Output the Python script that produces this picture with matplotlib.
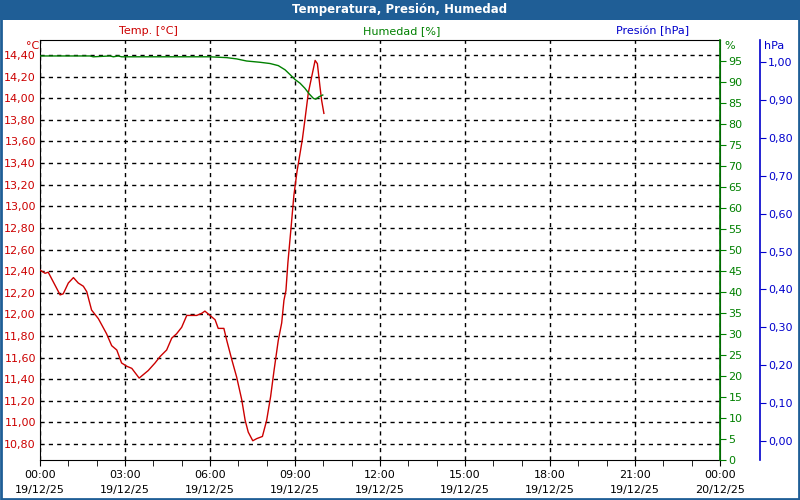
import matplotlib
matplotlib.use('Agg')
import matplotlib.pyplot as plt
from matplotlib.patches import Rectangle
from matplotlib.ticker import FuncFormatter, MultipleLocator

# datos (horas desde 00:00 del 19/12/25)
temp_h = [0.0, 0.18, 0.29, 0.47, 0.71, 0.82, 1.00, 1.18, 1.35, 1.53, 1.65, 1.82, 1.88,
          2.06, 2.35, 2.53, 2.71, 2.88, 3.06, 3.24, 3.50, 3.82, 4.06, 4.24, 4.47, 4.65,
          4.82, 5.00, 5.18, 5.53, 5.71, 5.82, 6.00, 6.18, 6.29, 6.49, 6.59, 6.77, 6.94,
          7.12, 7.24, 7.35, 7.51, 7.65, 7.85, 8.00, 8.14, 8.26, 8.41, 8.53, 8.61, 8.68,
          8.75, 8.86, 8.96, 9.07, 9.14, 9.26, 9.35, 9.47, 9.59, 9.71, 9.79, 9.88, 9.94, 10.02]
temp_c = [12.41, 12.38, 12.39, 12.30, 12.18, 12.19, 12.29, 12.34, 12.29, 12.26, 12.21, 12.04, 12.02,
          11.96, 11.82, 11.71, 11.67, 11.55, 11.52, 11.50, 11.41, 11.48, 11.55, 11.61, 11.67, 11.78,
          11.82, 11.88, 11.99, 11.99, 12.01, 12.03, 11.99, 11.95, 11.87, 11.87, 11.76, 11.58, 11.42,
          11.21, 11.02, 10.91, 10.83, 10.85, 10.87, 11.02, 11.24, 11.48, 11.76, 11.92, 12.13, 12.22,
          12.48, 12.80, 13.10, 13.32, 13.43, 13.62, 13.80, 14.05, 14.20, 14.35, 14.32, 14.11, 13.98, 13.86]

hum_h = [0.0, 1.76, 1.88, 2.47, 2.59, 2.76, 2.88, 6.00, 6.59, 6.94, 7.29, 7.76, 8.12,
         8.41, 8.65, 8.82, 9.00, 9.18, 9.35, 9.51, 9.65, 9.73, 9.85, 9.98]
hum = [96.2, 96.2, 96.0, 96.2, 96.0, 96.2, 96.0, 96.0, 95.8, 95.5, 95.0, 94.7, 94.4,
       93.9, 92.9, 91.8, 90.6, 89.7, 88.5, 87.1, 86.1, 85.9, 86.5, 86.9]

x_labels = ['00:00\n19/12/25', '03:00\n19/12/25', '06:00\n19/12/25', '09:00\n19/12/25',
            '12:00\n19/12/25', '15:00\n19/12/25', '18:00\n19/12/25', '21:00\n19/12/25',
            '00:00\n20/12/25']

RED = '#cc0000'
GREEN = '#008000'
BLUE = '#0000cc'
BAR = '#1f5e96'
FS = 8

fig = plt.figure(figsize=(8, 5), dpi=100)
fig.patch.set_facecolor('white')
fig.patches.append(Rectangle((0, 0.96), 1, 0.04, transform=fig.transFigure,
                             facecolor=BAR, edgecolor='none', zorder=0))
fig.patches.append(Rectangle((0.001, 0.002), 0.998, 0.996, transform=fig.transFigure,
                             facecolor='none', edgecolor=BAR, lw=2, zorder=0))
fig.text(0.5, 0.98, 'Temperatura, Presión, Humedad', color='white', fontsize=8.5,
         fontweight='bold', ha='center', va='center')

ax = fig.add_axes([0.05, 0.08, 0.85, 0.84])
ax.plot(temp_h, temp_c, color=RED, lw=1, zorder=3)
ax.set_xlim(0, 24)
ax.set_ylim(10.652, 14.539)
ax.set_yticks([10.8 + 0.2 * i for i in range(19)])
ax.yaxis.set_major_formatter(FuncFormatter(lambda v, p: f'{v:.2f}'.replace('.', ',')))
ax.tick_params(axis='y', length=0, colors=RED, labelsize=FS, pad=3)
ax.set_xticks(range(0, 25, 3))
ax.set_xticklabels(x_labels, linespacing=1.6)
ax.xaxis.set_minor_locator(MultipleLocator(1))
ax.tick_params(axis='x', which='both', length=4, labelsize=FS, pad=3)
ax.grid(True, color='black', linestyle=(0, (3, 3)), lw=1)
ax.set_axisbelow(True)

ax2 = ax.twinx()
ax2.plot(hum_h, hum, color=GREEN, lw=1, zorder=2)
ax2.set_ylim(0, 100)
ax2.set_yticks(range(0, 100, 5))
ax2.tick_params(axis='y', length=4, colors=GREEN, labelsize=FS, pad=2)
ax2.spines['right'].set_color(GREEN)
ax2.spines['right'].set_linewidth(1.2)

ax3 = ax.twinx()
ax3.spines['right'].set_position(('axes', 1.0588))
ax3.spines['right'].set_color(BLUE)
ax3.spines['right'].set_linewidth(1.2)
ax3.spines['right'].set_bounds(-0.05, 1.058)
ax3.set_ylim(-0.05, 1.058)
ax3.set_yticks([0.1 * i for i in range(11)])
ax3.yaxis.set_major_formatter(FuncFormatter(lambda v, p: f'{v:.2f}'.replace('.', ',')))
ax3.tick_params(axis='y', length=4, colors=BLUE, labelsize=FS, pad=2)
for a in (ax2, ax3):
    for s in ('left', 'top', 'bottom'):
        a.spines[s].set_visible(False)

# unidades y etiquetas de serie
fig.text(0.049, 0.908, '°C', color=RED, fontsize=FS, ha='right', va='center')
fig.text(0.906, 0.908, '%', color=GREEN, fontsize=FS, ha='left', va='center')
fig.text(0.955, 0.908, 'hPa', color=BLUE, fontsize=FS, ha='left', va='center')
fig.text(0.185, 0.938, 'Temp. [°C]', color=RED, fontsize=FS, ha='center', va='center')
fig.text(0.5025, 0.938, 'Humedad [%]', color=GREEN, fontsize=FS, ha='center', va='center')
fig.text(0.816, 0.938, 'Presión [hPa]', color=BLUE, fontsize=FS, ha='center', va='center')

plt.savefig('out.png', dpi=100)
